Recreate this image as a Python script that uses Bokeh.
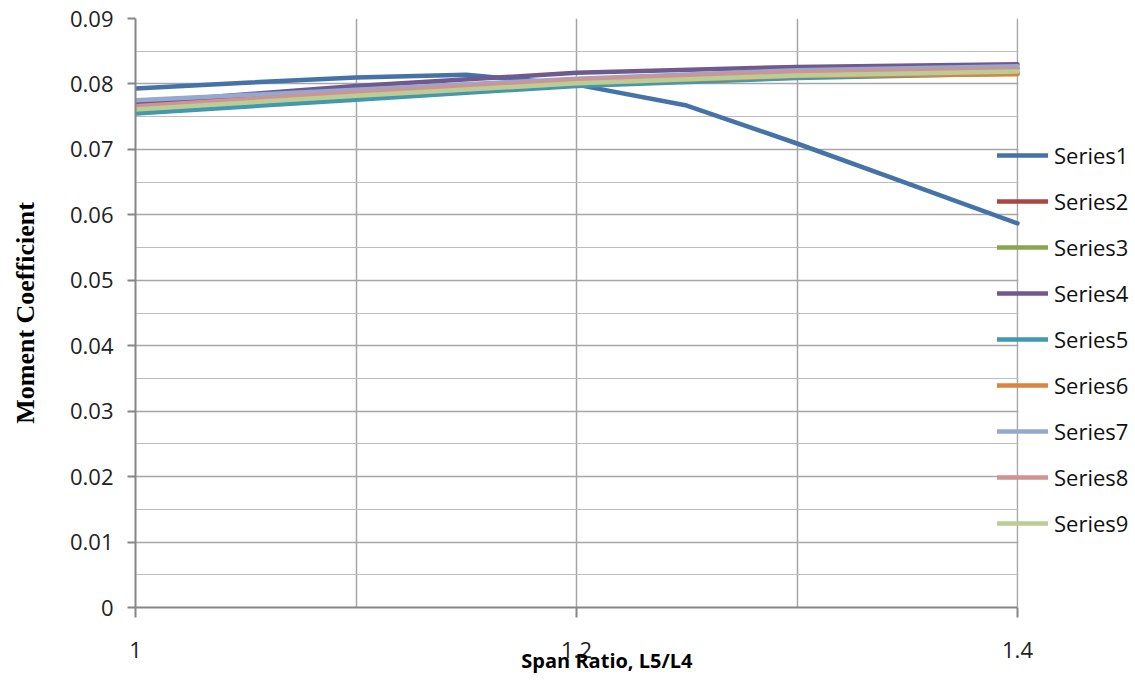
from bokeh.plotting import figure
from bokeh.models import (Legend, LegendItem, FixedTicker, Range1d, BoxAnnotation)
from bokeh.embed import file_html
from bokeh.resources import INLINE

# ---- data ----
x_fine = [1.0, 1.05, 1.1, 1.15, 1.2, 1.25, 1.3, 1.35, 1.4]
x_main = [1.0, 1.1, 1.2, 1.3, 1.4]

series1 = [0.0793, 0.0802, 0.0810, 0.0814, 0.0799, 0.0767, 0.0709, 0.0648, 0.0587]
series2 = [0.0768, 0.0787, 0.0806, 0.0818, 0.0824]
series3 = [0.0760, 0.0780, 0.0800, 0.0812, 0.0818]
series4 = [0.0771, 0.0797, 0.0817, 0.0826, 0.0830]
series5 = [0.0755, 0.0776, 0.0797, 0.0809, 0.0816]
series6 = [0.0762, 0.0782, 0.0801, 0.0812, 0.0815]
series7 = [0.0775, 0.0791, 0.0808, 0.0821, 0.0827]
series8 = [0.0766, 0.0787, 0.0806, 0.0818, 0.0823]
series9 = [0.0761, 0.0782, 0.0801, 0.0813, 0.0819]

series_names = ["Series1", "Series2", "Series3", "Series4", "Series5",
                "Series6", "Series7", "Series8", "Series9"]
series_colors = ["#4572A7", "#AA4643", "#89A54E", "#71588F", "#4198AF",
                 "#DB843D", "#93A9CF", "#D19392", "#B9CD96"]

x_ticks = [1.0, 1.2, 1.4]
x_minor_ticks = [1.1, 1.3]
x_tick_labels = ["1", "1.2", "1.4"]
y_ticks = [0.0, 0.01, 0.02, 0.03, 0.04, 0.05, 0.06, 0.07, 0.08, 0.09]
y_minor_ticks = [0.005, 0.015, 0.025, 0.035, 0.045, 0.055, 0.065, 0.075, 0.085]
y_tick_labels = ["0", "0.01", "0.02", "0.03", "0.04", "0.05", "0.06", "0.07", "0.08", "0.09"]

x_title = "Span Ratio, L5/L4"
y_title = "Moment Coefficient"

# ---- layout constants ----
W, H = 1135, 687
LEFT, TOP, BOTTOM = 135, 18, 80
PLOT_W = 882          # pixel width of the 1.0 .. 1.4 data area
FRAME_W = W - LEFT    # frame extends under the legend
x_lo, x_hi = x_ticks[0], x_ticks[-1]
x_end = x_lo + (x_hi - x_lo) * FRAME_W / PLOT_W

p = figure(width=W, height=H, output_backend="svg", toolbar_location=None,
           x_range=Range1d(x_lo, x_end), y_range=Range1d(y_ticks[0], y_ticks[-1]),
           min_border_left=LEFT, min_border_right=0, min_border_top=TOP,
           min_border_bottom=BOTTOM)
p.outline_line_color = None
p.background_fill_color = "white"

FONT = "Open Sans"

# x axis
p.xaxis.bounds = (x_lo, x_hi)
p.xaxis.ticker = FixedTicker(ticks=x_ticks, minor_ticks=x_minor_ticks)
p.xaxis.major_label_overrides = {t: l for t, l in zip(x_ticks, x_tick_labels)}
p.xaxis.axis_line_color = "#868686"
p.xaxis.axis_line_width = 2
p.xaxis.major_tick_line_color = "#868686"
p.xaxis.major_tick_line_width = 2
p.xaxis.major_tick_out = 10
p.xaxis.major_tick_in = 0
p.xaxis.minor_tick_out = 0
p.xaxis.minor_tick_in = 0
p.xaxis.major_label_standoff = 24
p.xaxis.major_label_text_font = FONT
p.xaxis.major_label_text_font_size = "22px"
p.xaxis.major_label_text_color = "#222222"
# trailing no-break spaces shift the centred title left, as in the reference
p.xaxis.axis_label = x_title + "\u00a0" * 11
p.xaxis.axis_label_text_font = FONT
p.xaxis.axis_label_text_font_style = "bold"
p.xaxis.axis_label_text_font_size = "20px"
p.xaxis.axis_label_text_color = "black"
p.xaxis.axis_label_standoff = -14

# y axis
p.yaxis.ticker = FixedTicker(ticks=y_ticks, minor_ticks=y_minor_ticks)
p.yaxis.major_label_overrides = {t: l for t, l in zip(y_ticks, y_tick_labels)}
p.yaxis.axis_line_color = "#868686"
p.yaxis.axis_line_width = 2
p.yaxis.major_tick_line_color = "#868686"
p.yaxis.major_tick_line_width = 2
p.yaxis.major_tick_out = 8
p.yaxis.major_tick_in = 0
p.yaxis.minor_tick_out = 0
p.yaxis.minor_tick_in = 0
p.yaxis.major_label_standoff = 14
p.yaxis.major_label_text_font = FONT
p.yaxis.major_label_text_font_size = "22px"
p.yaxis.major_label_text_color = "#222222"
p.yaxis.axis_label = y_title
p.yaxis.axis_label_text_font = "Liberation Serif"
p.yaxis.axis_label_text_font_style = "bold"
p.yaxis.axis_label_text_font_size = "26px"
p.yaxis.axis_label_text_color = "black"
p.yaxis.axis_label_standoff = 27

# grids
p.xgrid.grid_line_color = "#A6A6A6"
p.xgrid.grid_line_width = 1.5
p.xgrid.minor_grid_line_color = "#A6A6A6"
p.xgrid.minor_grid_line_width = 1.5
p.ygrid.grid_line_color = "#A6A6A6"
p.ygrid.grid_line_width = 1.5
p.ygrid.minor_grid_line_color = "#BDBDBD"
p.ygrid.minor_grid_line_width = 1.2

# white mask hiding the grid to the right of the data area
mask = BoxAnnotation(left=x_hi + (x_end - x_lo) / FRAME_W, fill_color="white",
                     fill_alpha=1.0, line_color=None, level="underlay")
p.add_layout(mask, "center")

# ---- lines ----
all_series = [series1, series2, series3, series4, series5,
              series6, series7, series8, series9]
items = []
for name, col, ys in zip(series_names, series_colors, all_series):
    xs = x_fine if len(ys) == len(x_fine) else x_main
    r = p.line(xs, ys, line_color=col, line_width=4.5, line_cap="round",
               line_join="round")
    items.append(LegendItem(label=name, renderers=[r]))

legend = Legend(items=items, location=(862, 69), orientation="vertical",
                padding=0, margin=0, spacing=16, glyph_width=51,
                glyph_height=20, label_standoff=6,
                label_text_font=FONT, label_text_font_size="22px",
                label_text_color="#111111",
                border_line_color=None, background_fill_alpha=0)
p.add_layout(legend, "center")

open("out.html", "w").write(file_html(p, INLINE))
